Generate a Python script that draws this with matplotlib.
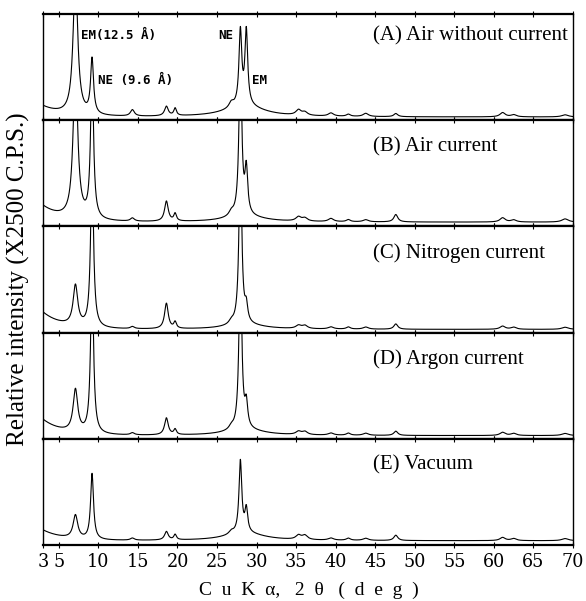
import numpy as np
import matplotlib
matplotlib.use('Agg')
import matplotlib.pyplot as plt

# peak positions (2theta, deg) and half widths shared by all five patterns
peak_pos = [7.1, 9.2, 14.3, 18.6, 19.7, 26.8, 27.95, 28.7, 35.3, 36.1, 39.4, 41.6, 43.8, 47.6, 61.1, 62.5, 69.0]
peak_hw = [0.35, 0.22, 0.30, 0.28, 0.20, 0.35, 0.21, 0.21, 0.40, 0.40, 0.40, 0.30, 0.40, 0.30, 0.40, 0.40, 0.50]

# peak heights per pattern (fraction of panel height, >1 means clipped)
heights_A = [1.30, 0.52, 0.06, 0.09, 0.07, 0.05, 0.70, 0.70, 0.05, 0.03, 0.03, 0.02, 0.03, 0.03, 0.04, 0.02, 0.02]
heights_B = [1.40, 1.40, 0.03, 0.19, 0.07, 0.04, 1.50, 0.42, 0.04, 0.03, 0.03, 0.02, 0.02, 0.07, 0.04, 0.02, 0.03]
heights_C = [0.38, 1.50, 0.02, 0.24, 0.06, 0.03, 1.60, 0.15, 0.03, 0.03, 0.02, 0.02, 0.02, 0.05, 0.03, 0.02, 0.02]
heights_D = [0.40, 1.50, 0.02, 0.16, 0.05, 0.03, 1.60, 0.22, 0.03, 0.03, 0.02, 0.02, 0.02, 0.04, 0.03, 0.02, 0.02]
heights_E = [0.22, 0.62, 0.02, 0.08, 0.05, 0.03, 0.68, 0.22, 0.04, 0.04, 0.02, 0.02, 0.02, 0.05, 0.03, 0.02, 0.02]

# background: flat level, low-angle rise, broad hump under the 28 deg peaks
bg_base = [0.03, 0.04, 0.03, 0.03, 0.04]
bg_low = [0.10, 0.15, 0.16, 0.15, 0.10]
bg_hump = [0.10, 0.05, 0.04, 0.05, 0.07]

labels = ['(A) Air without current', '(B) Air current', '(C) Nitrogen current',
          '(D) Argon current', '(E) Vacuum']
all_heights = [heights_A, heights_B, heights_C, heights_D, heights_E]

xticks = [3, 5, 10, 15, 20, 25, 30, 35, 40, 45, 50, 55, 60, 65, 70]


def pattern(x, heights, base, low, hump):
    y = base + low * np.exp(-(x - 3) / 2.5) + hump / (1 + ((x - 28.5) / 3.0) ** 2)
    for p, w, h in zip(peak_pos, peak_hw, heights):
        y = y + h / (1 + ((x - p) / w) ** 2)
    return y


x = np.linspace(3, 70, 3000)

fig = plt.figure(figsize=(5.86, 6.01), dpi=100)
left, width = 43 / 586, 530 / 586
bottom, total_h = 56 / 601, 531 / 601
panel_h = total_h / 5

axes = []
for i in range(5):
    ax = fig.add_axes([left, bottom + (4 - i) * panel_h, width, panel_h])
    y = pattern(x, all_heights[i], bg_base[i], bg_low[i], bg_hump[i])
    ax.plot(x, y, color='black', lw=0.8)
    ax.set_xlim(3, 70)
    ax.set_ylim(0, 1)
    ax.set_yticks([])
    ax.set_xticks(xticks)
    ax.tick_params(axis='x', direction='inout', length=5, width=0.8, top=True, bottom=True,
                   labelbottom=(i == 4))
    for s in ['top', 'bottom']:
        ax.spines[s].set_linewidth(1.6)
    for s in ['left', 'right']:
        ax.spines[s].set_linewidth(1.0)
    ax.text(0.623, 0.79 if i == 0 else 0.75, labels[i], transform=ax.transAxes,
            ha='left', va='center', fontsize=15, family='Liberation Serif')
    axes.append(ax)

axA = axes[0]
mono = dict(family='DejaVu Sans Mono', fontsize=9, fontweight='bold', va='center')
axA.text(7.8, 0.80, 'EM(12.5 Å)', ha='left', **mono)
axA.text(9.96, 0.37, 'NE (9.6 Å)', ha='left', **mono)
axA.text(27.05, 0.80, 'NE', ha='right', **mono)
axA.text(29.45, 0.37, 'EM', ha='left', **mono)

axE = axes[4]
axE.set_xticklabels([str(t) for t in xticks], family='DejaVu Serif', fontstretch='condensed',
                    fontsize=14)
axE.tick_params(axis='x', pad=3)

fig.text(0.527, 0.004, 'C  u  K  α,   2  θ   (  d  e  g  )', ha='center', va='bottom',
         fontsize=14, family='Liberation Serif')
fig.text(0.032, bottom + total_h / 2, 'Relative intensity (X2500 C.P.S.)', rotation=90,
         ha='center', va='center', fontsize=18, family='Liberation Serif')

fig.savefig('out.png', dpi=100)
